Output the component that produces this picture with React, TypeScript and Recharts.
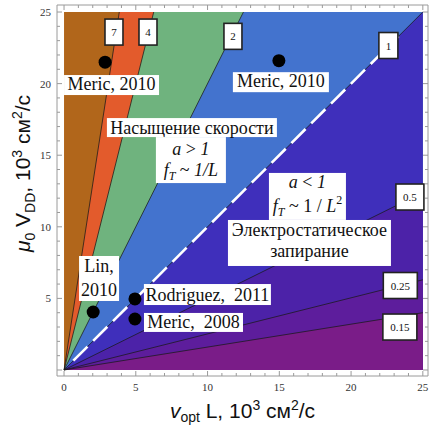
import React from 'react';
import { ComposedChart, Area, Line, Scatter, XAxis, YAxis } from 'recharts';

// ---------- data ----------
const axisTicks = [0, 1, 2, 3, 4, 5, 6, 7, 8, 9, 10, 11, 12, 13, 14, 15, 16, 17, 18, 19, 20, 21, 22, 23, 24, 25];
const xTickLabels = [0, 5, 10, 15, 20, 25];
const yTickLabels = [5, 10, 15, 20, 25];
const xDomain = [-0.49, 25.36];
const yDomain = [-0.42, 25.49];
const plotMax = 25;

// contour lines through the origin: level label and the point where each leaves the plot
const contourLevels = ['7', '4', '2', '1', '0.5', '0.25', '0.15'];
const contourEndX = [3.85, 6.25, 12.5, 25, 25, 25, 25];
const contourEndY = [25, 25, 25, 25, 12.4, 6.3, 4.0];
const contourLabelX = [3.48, 5.85, 11.77, 22.6, 24.1, 23.43, 23.4];
const contourLabelY = [23.6, 23.6, 23.3, 22.66, 12.08, 5.9, 3.0];

// white dashed a = 1 line
const dashedX = [0.65, 23.3];
const dashedY = [0.65, 23.3];

// experimental points
const paperNames = ['Meric, 2010', 'Meric, 2010', 'Lin, 2010', 'Rodriguez, 2011', 'Meric, 2008'];
const paperX = [2.86, 14.97, 2.03, 4.94, 4.94];
const paperY = [21.5, 21.6, 4.05, 4.96, 3.56];

// annotation texts and their anchor (box centre) in data units
const annotationTexts: string[][] = [
  ['Meric, 2010'],
  ['Meric, 2010'],
  ['Насыщение скорости'],
  ['a > 1', 'f_T ~ 1/L'],
  ['a < 1', 'f_T ~ 1 / L^2'],
  ['Электростатическое', 'запирание'],
  ['Lin,', '2010'],
  ['Rodriguez,\u00A0 2011'],
  ['Meric,\u00A0 2008'],
];
const annotationX = [3.31, 15.11, 8.91, 8.84, 16.96, 17.1, 2.44, 9.99, 9.02];
const annotationY = [19.9, 20.1, 16.93, 14.66, 12.12, 8.87, 6.39, 5.27, 3.32];

// ---------- styles ----------
const SERIF = "'Liberation Serif', 'Times New Roman', Times, serif";
const SANS = "'Liberation Sans', Arial, Helvetica, sans-serif";
const FRAME = '#9a9a9a';
const regionColors = ['#B1661B', '#E35B2C', '#6FB37E', '#4373CE', '#3F2FBB', '#4C22A8', '#5D1D9C', '#7A1C88'];
const contourBoxW = [18, 18, 18, 19, 28, 34, 34];
const annotationBoxW = [95, 96, 170, 70, 77, 163, 40, 127, 99];
const annotationBoxH = [20, 20, 19, 46, 47, 46, 45, 21, 19];
const annotationBaselines = [[15], [15], [15.5], [18, 39], [15, 39], [16, 37], [16, 40], [17], [15]];

// ---------- derived tables ----------
const backgroundData = [{ x: 0, y: plotMax }, { x: plotMax, y: plotMax }];
const regionData = contourLevels.map((_, i) => {
  const pts = [{ x: 0, y: 0 }, { x: contourEndX[i], y: contourEndY[i] }];
  if (contourEndX[i] < plotMax) pts.push({ x: plotMax, y: plotMax });
  return pts;
});
const lineData = contourLevels.map((_, i) => [{ x: 0, y: 0 }, { x: contourEndX[i], y: contourEndY[i] }]);
const dashedData = dashedX.map((x, i) => ({ x, y: dashedY[i] }));
const contourLabelData = contourLevels.map((_, i) => ({ x: contourLabelX[i], y: contourLabelY[i], i }));
const pointData = paperX.map((x, i) => ({ x, y: paperY[i], name: paperNames[i] }));
const annotationData = annotationX.map((x, i) => ({ x, y: annotationY[i], i }));

// ---------- renderers ----------
function renderLine(s: string) {
  if (s === 'a > 1' || s === 'a < 1') {
    return (
      <>
        <tspan fontStyle="italic">a</tspan>
        <tspan>{s.includes('>') ? ' > ' : ' < '}</tspan>
        <tspan fontStyle="italic">1</tspan>
      </>
    );
  }
  if (s === 'f_T ~ 1/L') {
    return (
      <>
        <tspan fontStyle="italic">f</tspan>
        <tspan fontStyle="italic" fontSize={12} dy={4}>T</tspan>
        <tspan dy={-4}> ~ </tspan>
        <tspan fontStyle="italic">1/L</tspan>
      </>
    );
  }
  if (s === 'f_T ~ 1 / L^2') {
    return (
      <>
        <tspan fontStyle="italic">f</tspan>
        <tspan fontStyle="italic" fontSize={12} dy={4}>T</tspan>
        <tspan dy={-4}> ~ 1 / </tspan>
        <tspan fontStyle="italic">L</tspan>
        <tspan fontSize={12} dy={-8}>2</tspan>
      </>
    );
  }
  return s;
}

const AnnotationShape = (p: any) => {
  const i = p.payload.i;
  const w = annotationBoxW[i];
  const h = annotationBoxH[i];
  const left = p.cx - w / 2;
  const top = p.cy - h / 2;
  return (
    <g>
      <rect x={left} y={top} width={w} height={h} fill="#ffffff" />
      {annotationTexts[i].map((s, k) => (
        <text
          key={k}
          x={p.cx}
          y={top + annotationBaselines[i][k]}
          textAnchor="middle"
          fontFamily={SERIF}
          fontSize={18}
          fill="#111"
        >
          {renderLine(s)}
        </text>
      ))}
    </g>
  );
};

const ContourLabelShape = (p: any) => {
  const i = p.payload.i;
  const w = contourBoxW[i];
  const h = 26;
  return (
    <g>
      <rect x={p.cx - w / 2} y={p.cy - h / 2} width={w} height={h} fill="#ffffff" stroke="#222" strokeWidth={1.6} />
      <text x={p.cx} y={p.cy + 4} textAnchor="middle" fontFamily={SERIF} fontSize={11} fill="#111">
        {contourLevels[i]}
      </text>
    </g>
  );
};

const DotShape = (p: any) => <circle cx={p.cx} cy={p.cy} r={6.5} fill="#000" />;

const tickLen = (v: number) => (v % 5 === 0 ? 5 : 3);

const BottomTick = (p: any) => {
  const v = p.payload.value;
  return (
    <g>
      <line x1={p.x} x2={p.x} y1={p.y} y2={p.y - tickLen(v)} stroke={FRAME} strokeWidth={1} />
      {xTickLabels.includes(v) && (
        <text x={p.x} y={p.y + 15} textAnchor="middle" fontFamily={SERIF} fontSize={11} fill="#333">
          {v}
        </text>
      )}
    </g>
  );
};
const TopTick = (p: any) => {
  const v = p.payload.value;
  return <line x1={p.x} x2={p.x} y1={p.y} y2={p.y + tickLen(v)} stroke={FRAME} strokeWidth={1} />;
};
const LeftTick = (p: any) => {
  const v = p.payload.value;
  return (
    <g>
      <line x1={p.x} x2={p.x + tickLen(v)} y1={p.y} y2={p.y} stroke={FRAME} strokeWidth={1} />
      {yTickLabels.includes(v) && (
        <text x={p.x - 6} y={p.y + 4} textAnchor="end" fontFamily={SERIF} fontSize={11} fill="#333">
          {v}
        </text>
      )}
    </g>
  );
};
const RightTick = (p: any) => {
  const v = p.payload.value;
  return <line x1={p.x} x2={p.x - tickLen(v)} y1={p.y} y2={p.y} stroke={FRAME} strokeWidth={1} />;
};

const XTitle = (props: any) => {
  const vb = props.viewBox || { x: 57, y: 376, width: 371, height: 50 };
  return (
    <text x={vb.x + vb.width / 2} y={vb.y + 42} textAnchor="middle" fontFamily={SANS} fontSize={21} fill="#111">
      <tspan fontStyle="italic">v</tspan>
      <tspan fontSize={14} dy={4}>opt</tspan>
      <tspan dy={-4}> L, 10</tspan>
      <tspan fontSize={14} dy={-8}>3</tspan>
      <tspan dy={8}> см</tspan>
      <tspan fontSize={14} dy={-8}>2</tspan>
      <tspan dy={8}>/с</tspan>
    </text>
  );
};

const YTitle = (props: any) => {
  const vb = props.viewBox || { x: 0, y: 5, width: 57, height: 371 };
  const cx = 30;
  const cy = vb.y + vb.height / 2 - 17;
  return (
    <text
      x={cx}
      y={cy}
      transform={`rotate(-90, ${cx}, ${cy})`}
      textAnchor="middle"
      fontFamily={SANS}
      fontSize={21}
      fill="#111"
    >
      <tspan fontStyle="italic">μ</tspan>
      <tspan fontSize={14} dy={5}>0</tspan>
      <tspan dy={-5}> V</tspan>
      <tspan fontSize={14} dy={5}>DD</tspan>
      <tspan dy={-5}>, 10</tspan>
      <tspan fontSize={14} dy={-8}>3</tspan>
      <tspan dy={8}> см</tspan>
      <tspan fontSize={14} dy={-8}>2</tspan>
      <tspan dy={8}>/с</tspan>
    </text>
  );
};

export default function App() {
  return (
    <div style={{ position: 'absolute', left: 0, top: 0, width: 432, height: 426, background: '#fff' }}>
      <ComposedChart width={432} height={426} margin={{ top: 4, right: 3, bottom: 0, left: 0 }}>
        <XAxis
          dataKey="x"
          type="number"
          domain={xDomain}
          allowDataOverflow
          ticks={axisTicks}
          interval={0}
          height={50}
          tickSize={0}
          tickMargin={0}
          tickLine={false}
          tick={BottomTick}
          axisLine={{ stroke: FRAME, strokeWidth: 1 }}
          label={(props: any) => <XTitle {...props} />}
        />
        <XAxis
          xAxisId="top"
          orientation="top"
          dataKey="x"
          type="number"
          domain={xDomain}
          allowDataOverflow
          ticks={axisTicks}
          interval={0}
          height={1}
          tickSize={0}
          tickMargin={0}
          tickLine={false}
          tick={TopTick}
          axisLine={{ stroke: FRAME, strokeWidth: 1 }}
        />
        <YAxis
          dataKey="y"
          type="number"
          domain={yDomain}
          allowDataOverflow
          ticks={axisTicks}
          interval={0}
          width={57}
          tickSize={0}
          tickMargin={0}
          tickLine={false}
          tick={LeftTick}
          axisLine={{ stroke: FRAME, strokeWidth: 1 }}
          label={(props: any) => <YTitle {...props} />}
        />
        <YAxis
          yAxisId="right"
          orientation="right"
          dataKey="y"
          type="number"
          domain={yDomain}
          allowDataOverflow
          ticks={axisTicks}
          interval={0}
          width={1}
          tickSize={0}
          tickMargin={0}
          tickLine={false}
          tick={RightTick}
          axisLine={{ stroke: FRAME, strokeWidth: 1 }}
        />

        <Area
          data={backgroundData}
          dataKey="y"
          type="linear"
          baseValue={0}
          fill={regionColors[0]}
          fillOpacity={1}
          stroke="none"
          dot={false}
          activeDot={false}
          isAnimationActive={false}
        />
        {regionData.map((d, i) => (
          <Area
            key={`r${i}`}
            data={d}
            dataKey="y"
            type="linear"
            baseValue={0}
            fill={regionColors[i + 1]}
            fillOpacity={1}
            stroke="none"
            dot={false}
            activeDot={false}
            isAnimationActive={false}
          />
        ))}
        {lineData.map((d, i) => (
          <Line
            key={`l${i}`}
            data={d}
            dataKey="y"
            type="linear"
            stroke="#1a1a1a"
            strokeOpacity={0.75}
            strokeWidth={1}
            dot={false}
            activeDot={false}
            isAnimationActive={false}
          />
        ))}
        <Line
          data={dashedData}
          dataKey="y"
          type="linear"
          stroke="#ffffff"
          strokeWidth={2.6}
          strokeDasharray="20 8"
          dot={false}
          activeDot={false}
          isAnimationActive={false}
        />
        <Scatter data={contourLabelData} dataKey="y" shape={ContourLabelShape} isAnimationActive={false} />
        <Scatter data={pointData} dataKey="y" shape={DotShape} isAnimationActive={false} />
        <Scatter data={annotationData} dataKey="y" shape={AnnotationShape} isAnimationActive={false} />
      </ComposedChart>
    </div>
  );
}
